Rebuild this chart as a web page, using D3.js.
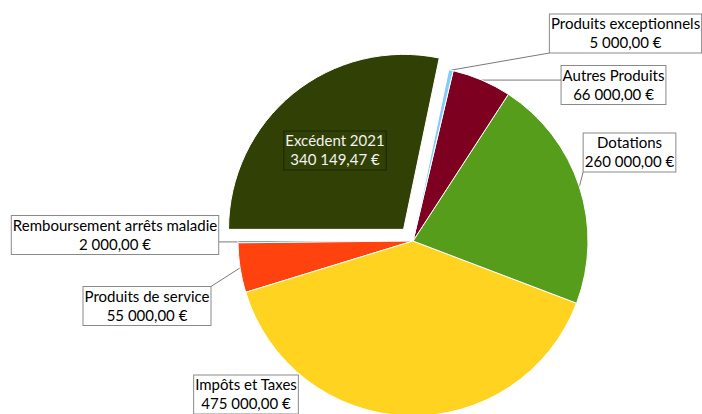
<!DOCTYPE html>
<html>
<head>
<meta charset="utf-8">
<script src="https://cdn.jsdelivr.net/npm/d3@7"></script>
<style>
  body { margin: 0; background: #fff; }
  text { font-family: Lato, "Noto Sans", sans-serif; font-size: 15px; }
</style>
</head>
<body>
<svg width="702" height="414"></svg>
<script>
const categories = ['Remboursement arrêts maladie', 'Produits de service', 'Impôts et Taxes',
    'Dotations', 'Autres Produits', 'Produits exceptionnels', 'Excédent 2021'];
const values = [2000, 55000, 475000, 260000, 66000, 5000, 340149.47];
const colors = ['#004586', '#ff420e', '#ffd320', '#579d1c', '#7e0021', '#83caff', '#314004'];
const exploded = 'Excédent 2021';

// label box centres
const labelPos = [[115, 235], [147, 306], [246, 394.5], [629.5, 152.5], [613.5, 85], [625.5, 33.5], [335, 150.5]];

const svg = d3.select('svg');
const width = +svg.attr('width');
const height = +svg.attr('height');
const cx = 413, cy = 241, radius = 175, explodeBy = 15;

const fr = d3.formatLocale({ decimal: ',', thousands: '\u00a0', grouping: [3], currency: ['', ' €'] });
const money = v => fr.format(',.2f')(v) + ' €';

const data = categories.map((c, i) => ({ name: c, value: values[i], color: colors[i], pos: labelPos[i] }));

const pie = d3.pie()
    .value(d => d.value)
    .sort(null)
    .startAngle(-Math.PI / 2)
    .endAngle(-Math.PI / 2 - 2 * Math.PI);

const arcs = pie(data);
const arc = d3.arc().innerRadius(0).outerRadius(radius);

const offset = d => {
    if (d.data.name !== exploded) return [0, 0];
    const m = (d.startAngle + d.endAngle) / 2;
    return [explodeBy * Math.sin(m), -explodeBy * Math.cos(m)];
};

const g = svg.append('g').attr('transform', `translate(${cx}, ${cy})`);

const linesG = g.append('g');
const sliceG = g.append('g');
const labelG = g.append('g');

sliceG.selectAll('path').data(arcs)
    .enter().append('path')
    .attr('d', arc)
    .attr('fill', d => d.data.color)
    .attr('stroke', '#fff')
    .attr('stroke-width', 1)
    .attr('transform', d => `translate(${offset(d)})`);

const lineHeight = 19;

arcs.forEach(d => {
    const inside = d.data.name === exploded;
    const [px, py] = [d.data.pos[0] - cx, d.data.pos[1] - cy];
    const lg = labelG.append('g');
    const t = lg.append('text')
        .attr('text-anchor', 'middle')
        .attr('fill', inside ? '#f2f2f2' : '#000');
    t.append('tspan').attr('x', px).attr('y', py - lineHeight / 2 + 5).text(d.data.name);
    t.append('tspan').attr('x', px).attr('y', py + lineHeight / 2 + 5).text(money(d.data.value));
    const bb = t.node().getBBox();
    const w = bb.width + 3, h = 39;
    const x0 = px - w / 2, y0 = py - h / 2;
    lg.insert('rect', 'text')
        .attr('x', x0).attr('y', y0)
        .attr('width', w).attr('height', h)
        .attr('fill', inside ? 'none' : '#fff')
        .attr('stroke', inside ? '#1c2600' : '#8a8a8a')
        .attr('stroke-width', 1);

    const m = (d.startAngle + d.endAngle) / 2;
    const ax = radius * Math.sin(m), ay = -radius * Math.cos(m);
    // no leader for the label inside its slice, nor when the anchor falls off the page
    if (!inside && cy + ay < height - 2) {
        const bx = Math.max(x0, Math.min(x0 + w, ax));
        const by = Math.max(y0, Math.min(y0 + h, ay));
        linesG.append('line')
            .attr('x1', ax).attr('y1', ay)
            .attr('x2', bx).attr('y2', by)
            .attr('stroke', '#7a7a7a')
            .attr('stroke-width', 1);
    }
});
</script>
</body>
</html>
